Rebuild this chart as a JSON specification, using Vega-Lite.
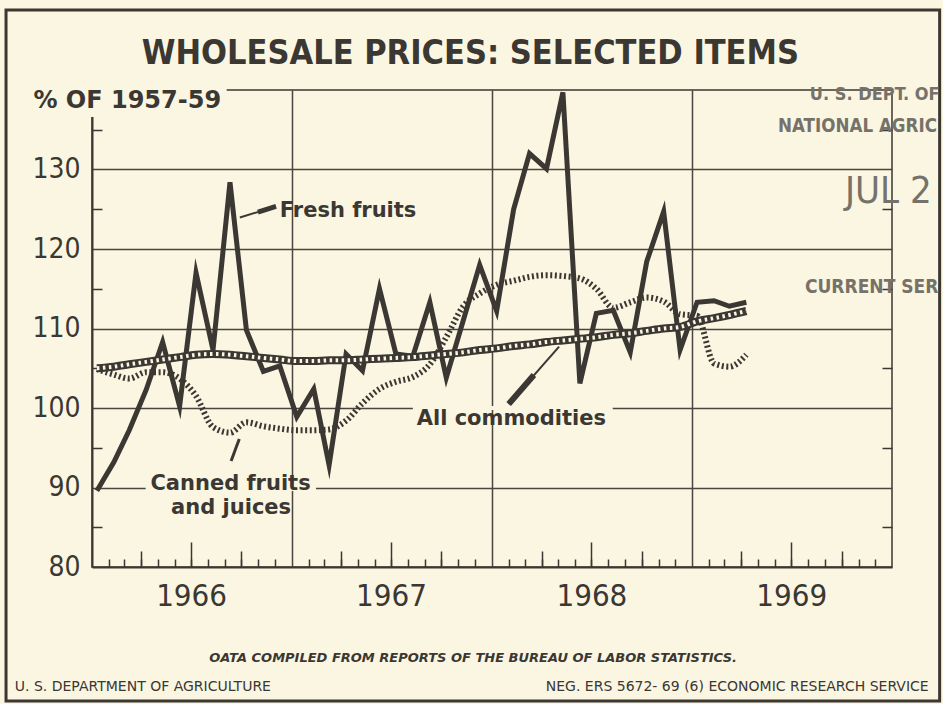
{
  "$schema": "https://vega.github.io/schema/vega-lite/v6.json",
  "width": 800,
  "height": 477,
  "autosize": {"type": "none"},
  "padding": {"left": 92, "top": 90, "right": 51, "bottom": 137},
  "background": "#faf6e2",
  "config": {
    "font": "DejaVu Sans",
    "view": {"stroke": "#3b3733", "strokeWidth": 1.5},
    "axis": {"labelColor": "#3b3733", "domainColor": "#3b3733", "tickColor": "#3b3733", "gridColor": "#4a4541", "gridOpacity": 1, "tickOpacity": 1, "domainOpacity": 1}
  },
  "resolve": {"axis": {"x": "independent", "y": "independent"}},
  "data": {"values": [
    {"date":"1966-01-10","series":"Fresh fruits","value":89.6},{"date":"1966-02-10","series":"Fresh fruits","value":93.2},{"date":"1966-03-10","series":"Fresh fruits","value":97.2},{"date":"1966-04-10","series":"Fresh fruits","value":102.3},{"date":"1966-05-10","series":"Fresh fruits","value":108.3},{"date":"1966-06-10","series":"Fresh fruits","value":100.2},{"date":"1966-07-10","series":"Fresh fruits","value":117.0},{"date":"1966-08-10","series":"Fresh fruits","value":107.3},{"date":"1966-09-10","series":"Fresh fruits","value":128.4},{"date":"1966-10-10","series":"Fresh fruits","value":109.8},{"date":"1966-11-10","series":"Fresh fruits","value":104.6},{"date":"1966-12-10","series":"Fresh fruits","value":105.3},
    {"date":"1967-01-10","series":"Fresh fruits","value":98.9},{"date":"1967-02-10","series":"Fresh fruits","value":102.4},{"date":"1967-03-10","series":"Fresh fruits","value":92.8},{"date":"1967-04-10","series":"Fresh fruits","value":106.8},{"date":"1967-05-10","series":"Fresh fruits","value":104.7},{"date":"1967-06-10","series":"Fresh fruits","value":115.0},{"date":"1967-07-10","series":"Fresh fruits","value":106.8},{"date":"1967-08-10","series":"Fresh fruits","value":106.5},{"date":"1967-09-10","series":"Fresh fruits","value":113.3},{"date":"1967-10-10","series":"Fresh fruits","value":103.8},{"date":"1967-11-10","series":"Fresh fruits","value":111.0},{"date":"1967-12-10","series":"Fresh fruits","value":118.0},
    {"date":"1968-01-10","series":"Fresh fruits","value":112.2},{"date":"1968-02-10","series":"Fresh fruits","value":125.0},{"date":"1968-03-10","series":"Fresh fruits","value":132.0},{"date":"1968-04-10","series":"Fresh fruits","value":130.1},{"date":"1968-05-10","series":"Fresh fruits","value":139.7},{"date":"1968-06-10","series":"Fresh fruits","value":103.1},{"date":"1968-07-10","series":"Fresh fruits","value":111.9},{"date":"1968-08-10","series":"Fresh fruits","value":112.3},{"date":"1968-09-10","series":"Fresh fruits","value":107.0},{"date":"1968-10-10","series":"Fresh fruits","value":118.4},{"date":"1968-11-10","series":"Fresh fruits","value":124.7},{"date":"1968-12-10","series":"Fresh fruits","value":107.3},
    {"date":"1969-01-10","series":"Fresh fruits","value":113.3},{"date":"1969-02-10","series":"Fresh fruits","value":113.5},{"date":"1969-03-10","series":"Fresh fruits","value":112.8},{"date":"1969-04-10","series":"Fresh fruits","value":113.3},
    {"date":"1966-01-10","series":"All commodities","value":105.0},{"date":"1966-02-10","series":"All commodities","value":105.2},{"date":"1966-03-10","series":"All commodities","value":105.5},{"date":"1966-04-10","series":"All commodities","value":105.8},{"date":"1966-05-10","series":"All commodities","value":106.1},{"date":"1966-06-10","series":"All commodities","value":106.4},{"date":"1966-07-10","series":"All commodities","value":106.7},{"date":"1966-08-10","series":"All commodities","value":106.8},{"date":"1966-09-10","series":"All commodities","value":106.7},{"date":"1966-10-10","series":"All commodities","value":106.5},{"date":"1966-11-10","series":"All commodities","value":106.3},{"date":"1966-12-10","series":"All commodities","value":106.1},
    {"date":"1967-01-10","series":"All commodities","value":105.9},{"date":"1967-02-10","series":"All commodities","value":105.9},{"date":"1967-03-10","series":"All commodities","value":106.0},{"date":"1967-04-10","series":"All commodities","value":106.0},{"date":"1967-05-10","series":"All commodities","value":106.1},{"date":"1967-06-10","series":"All commodities","value":106.2},{"date":"1967-07-10","series":"All commodities","value":106.3},{"date":"1967-08-10","series":"All commodities","value":106.4},{"date":"1967-09-10","series":"All commodities","value":106.6},{"date":"1967-10-10","series":"All commodities","value":106.8},{"date":"1967-11-10","series":"All commodities","value":107.0},{"date":"1967-12-10","series":"All commodities","value":107.3},
    {"date":"1968-01-10","series":"All commodities","value":107.5},{"date":"1968-02-10","series":"All commodities","value":107.8},{"date":"1968-03-10","series":"All commodities","value":108.0},{"date":"1968-04-10","series":"All commodities","value":108.3},{"date":"1968-05-10","series":"All commodities","value":108.5},{"date":"1968-06-10","series":"All commodities","value":108.7},{"date":"1968-07-10","series":"All commodities","value":108.9},{"date":"1968-08-10","series":"All commodities","value":109.2},{"date":"1968-09-10","series":"All commodities","value":109.4},{"date":"1968-10-10","series":"All commodities","value":109.7},{"date":"1968-11-10","series":"All commodities","value":110.0},{"date":"1968-12-10","series":"All commodities","value":110.2},
    {"date":"1969-01-10","series":"All commodities","value":110.9},{"date":"1969-02-10","series":"All commodities","value":111.3},{"date":"1969-03-10","series":"All commodities","value":111.7},{"date":"1969-04-10","series":"All commodities","value":112.2},
    {"date":"1966-01-10","series":"Canned fruits and juices","value":104.9},{"date":"1966-02-10","series":"Canned fruits and juices","value":104.2},{"date":"1966-03-10","series":"Canned fruits and juices","value":103.7},{"date":"1966-04-10","series":"Canned fruits and juices","value":104.5},{"date":"1966-05-10","series":"Canned fruits and juices","value":104.5},{"date":"1966-06-10","series":"Canned fruits and juices","value":103.7},{"date":"1966-07-10","series":"Canned fruits and juices","value":101.5},{"date":"1966-08-10","series":"Canned fruits and juices","value":97.6},{"date":"1966-09-10","series":"Canned fruits and juices","value":96.9},{"date":"1966-10-10","series":"Canned fruits and juices","value":98.2},{"date":"1966-11-10","series":"Canned fruits and juices","value":97.7},{"date":"1966-12-10","series":"Canned fruits and juices","value":97.4},
    {"date":"1967-01-10","series":"Canned fruits and juices","value":97.2},{"date":"1967-02-10","series":"Canned fruits and juices","value":97.2},{"date":"1967-03-10","series":"Canned fruits and juices","value":97.3},{"date":"1967-04-10","series":"Canned fruits and juices","value":98.4},{"date":"1967-05-10","series":"Canned fruits and juices","value":100.6},{"date":"1967-06-10","series":"Canned fruits and juices","value":102.4},{"date":"1967-07-10","series":"Canned fruits and juices","value":103.3},{"date":"1967-08-10","series":"Canned fruits and juices","value":103.9},{"date":"1967-09-10","series":"Canned fruits and juices","value":105.5},{"date":"1967-10-10","series":"Canned fruits and juices","value":108.9},{"date":"1967-11-10","series":"Canned fruits and juices","value":112.8},{"date":"1967-12-10","series":"Canned fruits and juices","value":114.4},
    {"date":"1968-01-10","series":"Canned fruits and juices","value":115.5},{"date":"1968-02-10","series":"Canned fruits and juices","value":116.0},{"date":"1968-03-10","series":"Canned fruits and juices","value":116.5},{"date":"1968-04-10","series":"Canned fruits and juices","value":116.7},{"date":"1968-05-10","series":"Canned fruits and juices","value":116.6},{"date":"1968-06-10","series":"Canned fruits and juices","value":116.3},{"date":"1968-07-10","series":"Canned fruits and juices","value":115.0},{"date":"1968-08-10","series":"Canned fruits and juices","value":112.6},{"date":"1968-09-10","series":"Canned fruits and juices","value":113.3},{"date":"1968-10-10","series":"Canned fruits and juices","value":113.9},{"date":"1968-11-10","series":"Canned fruits and juices","value":113.4},{"date":"1968-12-10","series":"Canned fruits and juices","value":111.8},
    {"date":"1969-01-10","series":"Canned fruits and juices","value":111.6},{"date":"1969-02-10","series":"Canned fruits and juices","value":105.6},{"date":"1969-03-10","series":"Canned fruits and juices","value":105.2},{"date":"1969-04-10","series":"Canned fruits and juices","value":106.7}
  ]},
  "layer": [
    {
      "data": {"values": [{}]},
      "mark": {"type": "rect", "filled": false, "stroke": "#3b3733", "strokeWidth": 3},
      "encoding": {
        "x": {"datum": {"year": 1965, "month": 7, "date": 28, "utc": true}, "type": "temporal",
          "axis": {"orient": "bottom", "values": [{"year": 1967, "month": 1, "date": 1, "utc": true}, {"year": 1968, "month": 1, "date": 1, "utc": true}, {"year": 1969, "month": 1, "date": 1, "utc": true}], "grid": true, "gridWidth": 1.5, "ticks": false, "labels": false, "domain": false, "title": null}},
        "x2": {"datum": {"year": 1970, "month": 3, "date": 29, "utc": true}},
        "y": {"datum": 150.06, "type": "quantitative", "axis": null},
        "y2": {"datum": 63.14}
      }
    },
    {
      "transform": [{"filter": "datum.series === 'Canned fruits and juices'"}],
      "mark": {"type": "line", "interpolate": "monotone", "color": "#3b3733", "strokeWidth": 6, "strokeDash": [2, 2.6], "strokeCap": "butt"},
      "encoding": {
        "x": {"field": "date", "type": "temporal",
          "axis": {"orient": "bottom", "values": [{"year": 1966, "month": 7, "date": 1, "utc": true}, {"year": 1967, "month": 7, "date": 1, "utc": true}, {"year": 1968, "month": 7, "date": 1, "utc": true}, {"year": 1969, "month": 7, "date": 1, "utc": true}], "tickSize": -25, "tickWidth": 1.5, "labels": false, "domain": false, "grid": false, "title": null}},
        "y": {"field": "value", "type": "quantitative",
          "axis": {"orient": "left", "values": [90, 100, 110, 120, 130], "grid": true, "gridWidth": 1.5, "ticks": false, "labels": false, "domain": false, "title": null}}
      }
    },
    {
      "transform": [{"filter": "datum.series === 'Fresh fruits'"}],
      "mark": {"type": "line", "color": "#3b3733", "strokeWidth": 5, "strokeJoin": "miter", "strokeMiterLimit": 6},
      "encoding": {
        "x": {"field": "date", "type": "temporal",
          "scale": {"type": "utc", "domain": [{"year": 1966, "month": 1, "date": 1, "utc": true}, {"year": 1970, "month": 1, "date": 1, "utc": true}]},
          "axis": {"orient": "bottom", "values": [{"year": 1966, "month": 7, "date": 1, "utc": true}, {"year": 1967, "month": 7, "date": 1, "utc": true}, {"year": 1968, "month": 7, "date": 1, "utc": true}, {"year": 1969, "month": 7, "date": 1, "utc": true}], "labelExpr": "utcFormat(datum.value, '%Y')", "ticks": false, "domain": true, "domainWidth": 2, "grid": false, "labelFont": "DejaVu Sans Condensed", "labelFontSize": 31, "labelPadding": 14, "labelFlush": false, "labelOverlap": false, "title": null}},
        "y": {"field": "value", "type": "quantitative",
          "scale": {"domain": [80, 140], "nice": false, "zero": false},
          "axis": {"orient": "left", "values": [80, 90, 100, 110, 120, 130], "ticks": false, "domain": true, "domainWidth": 2, "grid": false, "labelFont": "DejaVu Sans Condensed", "labelFontSize": 28, "labelPadding": 12, "labelFlush": false, "labelOverlap": false, "title": null}}
      }
    },
    {
      "transform": [{"filter": "datum.series === 'All commodities'"}],
      "mark": {"type": "line", "interpolate": "monotone", "color": "#3b3733", "strokeWidth": 8},
      "encoding": {
        "x": {"field": "date", "type": "temporal",
          "axis": {"orient": "bottom", "values": [
            {"year":1966,"month":2,"utc":true},{"year":1966,"month":3,"utc":true},{"year":1966,"month":4,"utc":true},{"year":1966,"month":5,"utc":true},{"year":1966,"month":6,"utc":true},{"year":1966,"month":7,"utc":true},{"year":1966,"month":8,"utc":true},{"year":1966,"month":9,"utc":true},{"year":1966,"month":10,"utc":true},{"year":1966,"month":11,"utc":true},{"year":1966,"month":12,"utc":true},
            {"year":1967,"month":2,"utc":true},{"year":1967,"month":3,"utc":true},{"year":1967,"month":4,"utc":true},{"year":1967,"month":5,"utc":true},{"year":1967,"month":6,"utc":true},{"year":1967,"month":7,"utc":true},{"year":1967,"month":8,"utc":true},{"year":1967,"month":9,"utc":true},{"year":1967,"month":10,"utc":true},{"year":1967,"month":11,"utc":true},{"year":1967,"month":12,"utc":true},
            {"year":1968,"month":2,"utc":true},{"year":1968,"month":3,"utc":true},{"year":1968,"month":4,"utc":true},{"year":1968,"month":5,"utc":true},{"year":1968,"month":6,"utc":true},{"year":1968,"month":7,"utc":true},{"year":1968,"month":8,"utc":true},{"year":1968,"month":9,"utc":true},{"year":1968,"month":10,"utc":true},{"year":1968,"month":11,"utc":true},{"year":1968,"month":12,"utc":true},
            {"year":1969,"month":2,"utc":true},{"year":1969,"month":3,"utc":true},{"year":1969,"month":4,"utc":true},{"year":1969,"month":5,"utc":true},{"year":1969,"month":6,"utc":true},{"year":1969,"month":7,"utc":true},{"year":1969,"month":8,"utc":true},{"year":1969,"month":9,"utc":true},{"year":1969,"month":10,"utc":true},{"year":1969,"month":11,"utc":true},{"year":1969,"month":12,"utc":true}
          ], "tickSize": -8, "tickWidth": 1.5, "labels": false, "domain": false, "grid": false, "title": null}},
        "y": {"field": "value", "type": "quantitative",
          "axis": {"orient": "left", "values": [85, 95, 105, 115, 125, 135], "tickSize": -10, "tickWidth": 1.5, "labels": false, "domain": false, "grid": false, "title": null}}
      }
    },
    {
      "transform": [{"filter": "datum.series === 'All commodities'"}],
      "mark": {"type": "line", "interpolate": "monotone", "color": "#faf6e2", "strokeWidth": 4, "strokeDash": [2.5, 3.5], "strokeCap": "butt"},
      "encoding": {
        "x": {"field": "date", "type": "temporal",
          "axis": {"orient": "bottom", "values": [{"year":1966,"month":4,"utc":true},{"year":1966,"month":10,"utc":true},{"year":1967,"month":4,"utc":true},{"year":1967,"month":10,"utc":true},{"year":1968,"month":4,"utc":true},{"year":1968,"month":10,"utc":true},{"year":1969,"month":4,"utc":true},{"year":1969,"month":10,"utc":true}], "tickSize": -16, "tickWidth": 1.5, "labels": false, "domain": false, "grid": false, "title": null}},
        "y": {"field": "value", "type": "quantitative",
          "axis": {"orient": "right", "values": [85, 95, 105, 115, 125, 135], "tickSize": -10, "tickWidth": 1.5, "labels": false, "domain": false, "grid": false, "title": null}}
      }
    },
    {
      "data": {"values": [{}]},
      "mark": {"type": "rect", "color": "#faf6e2"},
      "encoding": {
        "x": {"datum": {"year": 1966, "month": 4, "date": 9, "utc": true}, "type": "temporal", "axis": null},
        "x2": {"datum": {"year": 1967, "month": 2, "date": 14, "utc": true}},
        "y": {"datum": 89.55, "type": "quantitative", "axis": null},
        "y2": {"datum": 90.45}
      }
    },
    {
      "data": {"values": [{}]},
      "mark": {"type": "rect", "color": "#faf6e2"},
      "encoding": {
        "x": {"datum": {"year": 1967, "month": 8, "date": 10, "utc": true}, "type": "temporal", "axis": null},
        "x2": {"datum": {"year": 1968, "month": 8, "date": 9, "utc": true}},
        "y": {"datum": 99.75, "type": "quantitative", "axis": null},
        "y2": {"datum": 100.25}
      }
    },
    {
      "data": {"values": [{}]},
      "mark": {"type": "rect", "color": "#faf6e2"},
      "encoding": {
        "x": {"datum": {"year": 1965, "month": 9, "date": 7, "utc": true}, "type": "temporal", "axis": null},
        "x2": {"datum": {"year": 1966, "month": 9, "date": 4, "utc": true}},
        "y": {"datum": 140.5, "type": "quantitative", "axis": null},
        "y2": {"datum": 136.6}
      }
    },
    {
      "data": {"values": [{}]},
      "mark": {"type": "rule", "color": "#3b3733", "strokeWidth": 2},
      "encoding": {
        "x": {"datum": {"year": 1966, "month": 9, "date": 28, "utc": true}, "type": "temporal", "axis": null},
        "x2": {"datum": {"year": 1966, "month": 12, "date": 3, "utc": true}},
        "y": {"datum": 123.96, "type": "quantitative", "axis": null},
        "y2": {"datum": 125.35}
      }
    },
    {
      "data": {"values": [{}]},
      "mark": {"type": "rule", "color": "#3b3733", "strokeWidth": 5},
      "encoding": {
        "x": {"datum": {"year": 1966, "month": 10, "date": 31, "utc": true}, "type": "temporal", "axis": null},
        "x2": {"datum": {"year": 1966, "month": 12, "date": 3, "utc": true}},
        "y": {"datum": 124.65, "type": "quantitative", "axis": null},
        "y2": {"datum": 125.35}
      }
    },
    {
      "data": {"values": [{}]},
      "mark": {"type": "rule", "color": "#3b3733", "strokeWidth": 2},
      "encoding": {
        "x": {"datum": {"year": 1968, "month": 2, "date": 1, "utc": true}, "type": "temporal", "axis": null},
        "x2": {"datum": {"year": 1968, "month": 5, "date": 3, "utc": true}},
        "y": {"datum": 100.5, "type": "quantitative", "axis": null},
        "y2": {"datum": 107.71}
      }
    },
    {
      "data": {"values": [{}]},
      "mark": {"type": "rule", "color": "#3b3733", "strokeWidth": 6},
      "encoding": {
        "x": {"datum": {"year": 1968, "month": 2, "date": 1, "utc": true}, "type": "temporal", "axis": null},
        "x2": {"datum": {"year": 1968, "month": 3, "date": 18, "utc": true}},
        "y": {"datum": 100.5, "type": "quantitative", "axis": null},
        "y2": {"datum": 104.15}
      }
    },
    {
      "data": {"values": [{}]},
      "mark": {"type": "rule", "color": "#3b3733", "strokeWidth": 3},
      "encoding": {
        "x": {"datum": {"year": 1966, "month": 9, "date": 12, "utc": true}, "type": "temporal", "axis": null},
        "x2": {"datum": {"year": 1966, "month": 9, "date": 27, "utc": true}},
        "y": {"datum": 93.33, "type": "quantitative", "axis": null},
        "y2": {"datum": 96.1}
      }
    },
    {
      "data": {"values": [{}]},
      "mark": {"type": "text", "text": "WHOLESALE PRICES: SELECTED ITEMS", "font": "DejaVu Sans Condensed", "fontWeight": "bold", "fontSize": 34, "align": "center", "baseline": "alphabetic", "color": "#3b3733"},
      "encoding": {
        "x": {"datum": {"year": 1967, "month": 11, "date": 23, "utc": true}, "type": "temporal", "axis": null},
        "y": {"datum": 143.3, "type": "quantitative", "axis": null}
      }
    },
    {
      "data": {"values": [{}]},
      "mark": {"type": "text", "text": "% OF 1957-59", "fontWeight": "bold", "fontSize": 24, "align": "left", "baseline": "alphabetic", "color": "#3b3733"},
      "encoding": {
        "x": {"datum": {"year": 1965, "month": 9, "date": 16, "utc": true}, "type": "temporal", "axis": null},
        "y": {"datum": 137.7, "type": "quantitative", "axis": null}
      }
    },
    {
      "data": {"values": [{}]},
      "mark": {"type": "text", "text": "Fresh fruits", "fontWeight": "bold", "fontSize": 21, "align": "left", "baseline": "alphabetic", "color": "#3b3733"},
      "encoding": {
        "x": {"datum": {"year": 1966, "month": 12, "date": 10, "utc": true}, "type": "temporal", "axis": null},
        "y": {"datum": 123.99, "type": "quantitative", "axis": null}
      }
    },
    {
      "data": {"values": [{}]},
      "mark": {"type": "text", "text": "All commodities", "fontWeight": "bold", "fontSize": 21, "align": "left", "baseline": "alphabetic", "color": "#3b3733"},
      "encoding": {
        "x": {"datum": {"year": 1967, "month": 8, "date": 17, "utc": true}, "type": "temporal", "axis": null},
        "y": {"datum": 97.86, "type": "quantitative", "axis": null}
      }
    },
    {
      "data": {"values": [{}]},
      "mark": {"type": "text", "text": "Canned fruits", "fontWeight": "bold", "fontSize": 21, "align": "center", "baseline": "alphabetic", "color": "#3b3733"},
      "encoding": {
        "x": {"datum": {"year": 1966, "month": 9, "date": 11, "utc": true}, "type": "temporal", "axis": null},
        "y": {"datum": 89.69, "type": "quantitative", "axis": null}
      }
    },
    {
      "data": {"values": [{}]},
      "mark": {"type": "text", "text": "and juices", "fontWeight": "bold", "fontSize": 21, "align": "center", "baseline": "alphabetic", "color": "#3b3733"},
      "encoding": {
        "x": {"datum": {"year": 1966, "month": 9, "date": 12, "utc": true}, "type": "temporal", "axis": null},
        "y": {"datum": 86.67, "type": "quantitative", "axis": null}
      }
    },
    {
      "data": {"values": [{}]},
      "mark": {"type": "text", "text": "OATA COMPILED FROM REPORTS OF THE BUREAU OF LABOR STATISTICS.", "fontWeight": "bold", "fontStyle": "italic", "fontSize": 13, "align": "center", "baseline": "alphabetic", "color": "#3b3733"},
      "encoding": {
        "x": {"datum": {"year": 1967, "month": 11, "date": 28, "utc": true}, "type": "temporal", "axis": null},
        "y": {"datum": 68.09, "type": "quantitative", "axis": null}
      }
    },
    {
      "data": {"values": [{}]},
      "mark": {"type": "text", "text": "U. S. DEPARTMENT OF AGRICULTURE", "fontSize": 14, "align": "left", "baseline": "alphabetic", "color": "#3b3733"},
      "encoding": {
        "x": {"datum": {"year": 1965, "month": 8, "date": 13, "utc": true}, "type": "temporal", "axis": null},
        "y": {"datum": 64.44, "type": "quantitative", "axis": null}
      }
    },
    {
      "data": {"values": [{}]},
      "mark": {"type": "text", "text": "NEG. ERS 5672- 69 (6)       ECONOMIC RESEARCH SERVICE", "fontSize": 14, "align": "right", "baseline": "alphabetic", "color": "#3b3733"},
      "encoding": {
        "x": {"datum": {"year": 1970, "month": 3, "date": 9, "utc": true}, "type": "temporal", "axis": null},
        "y": {"datum": 64.44, "type": "quantitative", "axis": null}
      }
    },
    {
      "data": {"values": [{}]},
      "mark": {"type": "text", "text": "U. S. DEPT. OF", "font": "DejaVu Sans Condensed", "fontWeight": "bold", "fontSize": 18, "align": "left", "baseline": "alphabetic", "color": "#76726a"},
      "encoding": {
        "x": {"datum": {"year": 1969, "month": 8, "date": 4, "utc": true}, "type": "temporal", "axis": null},
        "y": {"datum": 138.74, "type": "quantitative", "axis": null}
      }
    },
    {
      "data": {"values": [{}]},
      "mark": {"type": "text", "text": "NATIONAL AGRIC", "font": "DejaVu Sans Condensed", "fontWeight": "bold", "fontSize": 18.6, "align": "left", "baseline": "alphabetic", "color": "#76726a"},
      "encoding": {
        "x": {"datum": {"year": 1969, "month": 6, "date": 7, "utc": true}, "type": "temporal", "axis": null},
        "y": {"datum": 134.72, "type": "quantitative", "axis": null}
      }
    },
    {
      "data": {"values": [{}]},
      "mark": {"type": "text", "text": "JUL 2", "font": "DejaVu Sans Condensed", "fontSize": 38, "align": "left", "baseline": "alphabetic", "color": "#76726a"},
      "encoding": {
        "x": {"datum": {"year": 1969, "month": 10, "date": 7, "utc": true}, "type": "temporal", "axis": null},
        "y": {"datum": 125.79, "type": "quantitative", "axis": null}
      }
    },
    {
      "data": {"values": [{}]},
      "mark": {"type": "text", "text": "CURRENT SER", "font": "DejaVu Sans Condensed", "fontWeight": "bold", "fontSize": 19, "align": "left", "baseline": "alphabetic", "color": "#76726a"},
      "encoding": {
        "x": {"datum": {"year": 1969, "month": 7, "date": 26, "utc": true}, "type": "temporal", "axis": null},
        "y": {"datum": 114.47, "type": "quantitative", "axis": null}
      }
    }
  ]
}
